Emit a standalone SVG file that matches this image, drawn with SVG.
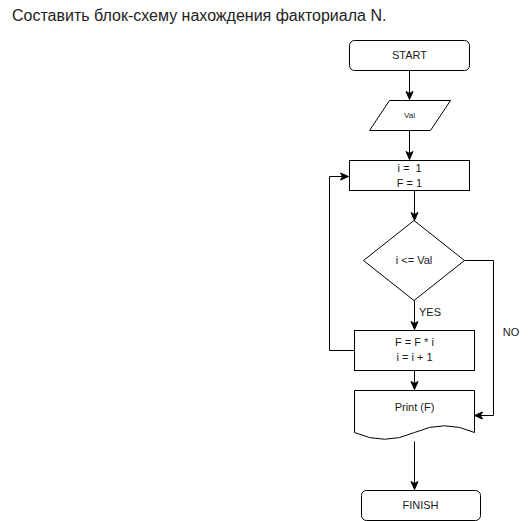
<svg xmlns="http://www.w3.org/2000/svg" width="531" height="521" viewBox="0 0 531 521">
<defs>
<marker id="ah" markerWidth="10" markerHeight="10" refX="9" refY="5" orient="auto" markerUnits="userSpaceOnUse">
<path d="M1,1.5 L9,5 L1,8.5 L3,5 Z" fill="#000" stroke="#000" stroke-width="1"/>
</marker>
</defs>
<style>
.s{fill:#fff;stroke:#000;stroke-width:1}
.t{font-family:"Liberation Sans",Arial,sans-serif;font-size:11px;fill:#1a1a1a;text-anchor:middle}
.c{fill:none;stroke:#000;stroke-width:1}
</style>
<rect width="531" height="521" fill="#fff"/>
<text x="12" y="21" style="font-family:'Liberation Sans',Arial,sans-serif;font-size:16px;fill:#222">Составить блок-схему нахождения факториала N.</text>
<g id="connectors">
<path class="c" d="M409.5,70.5 V99.5" marker-end="url(#ah)"/>
<path class="c" d="M409.5,130.5 V159.5" marker-end="url(#ah)"/>
<path class="c" d="M414.5,190.5 V220.5" marker-end="url(#ah)"/>
<path class="c" d="M414.5,300.5 V329.5" marker-end="url(#ah)"/>
<path class="c" d="M354.5,350.5 H329.5 V176.5 H348.5" marker-end="url(#ah)"/>
<path class="c" d="M464.5,260.5 H493.5 V415.5 H474.5" marker-end="url(#ah)"/>
<path class="c" d="M414.5,370.5 V389.5" marker-end="url(#ah)"/>
<path class="c" d="M414.5,441.5 V489.5" marker-end="url(#ah)"/>
<text class="t" x="430" y="316">YES</text>
<text class="t" x="511" y="336">NO</text>
</g>
<g id="start">
<rect class="s" x="349.5" y="40.5" width="120" height="30" rx="5"/>
<text class="t" x="409.5" y="59">START</text>
</g>
<g id="input">
<path class="s" d="M389.5,100.5 H450.5 L430.5,130.5 H369.5 Z"/>
<text class="t" x="409.5" y="118" style="font-size:8px">Val</text>
</g>
<g id="init">
<rect class="s" x="349.5" y="160.5" width="120" height="30"/>
<text class="t" x="409.5" y="172" xml:space="preserve">i =  1</text>
<text class="t" x="409.5" y="187">F = 1</text>
</g>
<g id="cond">
<path class="s" d="M414,220.5 L464.5,260.5 L414,300.5 L363.5,260.5 Z"/>
<text class="t" x="414" y="264">i &lt;= Val</text>
</g>
<g id="body">
<rect class="s" x="354.5" y="330.5" width="120" height="40"/>
<text class="t" x="414.5" y="346">F = F * i</text>
<text class="t" x="414.5" y="361">i = i + 1</text>
</g>
<g id="print">
<path class="s" d="M354.5,390.5 H474.5 V432.5 Q444.5,419 414.5,432.5 Q384.5,446 354.5,432.5 Z"/>
<text class="t" x="414.5" y="411">Print (F)</text>
</g>
<g id="finish">
<rect class="s" x="361.5" y="490.5" width="119" height="30" rx="5"/>
<text class="t" x="420.5" y="509">FINISH</text>
</g>
</svg>
